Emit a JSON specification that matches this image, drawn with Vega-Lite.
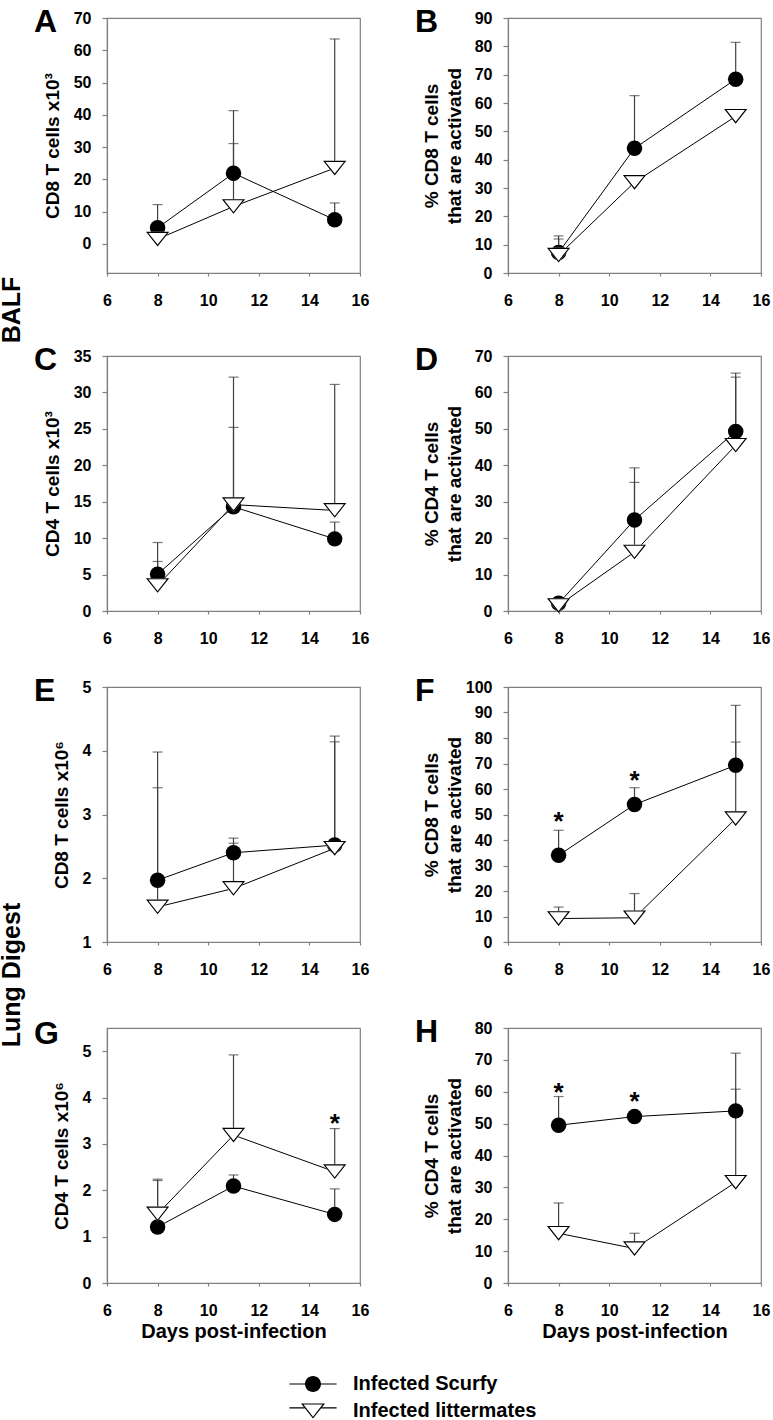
{
  "$schema": "https://vega.github.io/schema/vega-lite/v6.json",
  "padding": {"left": 0, "top": 5, "right": 0, "bottom": 0},
  "background": "white",
  "datasets": {
    "d": [
      {"p": "A", "day": 8, "g": "Infected Scurfy", "m": 5.0, "u": 12.2},
      {"p": "A", "day": 11, "g": "Infected Scurfy", "m": 21.9, "u": 41.3},
      {"p": "A", "day": 15, "g": "Infected Scurfy", "m": 7.5, "u": 12.7},
      {"p": "A", "day": 8, "g": "Infected littermates", "m": 1.5, "u": null},
      {"p": "A", "day": 11, "g": "Infected littermates", "m": 11.6, "u": 31.1},
      {"p": "A", "day": 15, "g": "Infected littermates", "m": 23.5, "u": 63.5},
      {"p": "B", "day": 8, "g": "Infected Scurfy", "m": 7.2, "u": 13.1},
      {"p": "B", "day": 11, "g": "Infected Scurfy", "m": 44.0, "u": 62.6},
      {"p": "B", "day": 15, "g": "Infected Scurfy", "m": 68.4, "u": 81.4},
      {"p": "B", "day": 8, "g": "Infected littermates", "m": 6.3, "u": 12.0},
      {"p": "B", "day": 11, "g": "Infected littermates", "m": 32.0, "u": null},
      {"p": "B", "day": 15, "g": "Infected littermates", "m": 55.3, "u": null},
      {"p": "C", "day": 8, "g": "Infected Scurfy", "m": 5.05, "u": 9.4},
      {"p": "C", "day": 11, "g": "Infected Scurfy", "m": 14.3, "u": 25.2},
      {"p": "C", "day": 15, "g": "Infected Scurfy", "m": 9.9, "u": 12.2},
      {"p": "C", "day": 8, "g": "Infected littermates", "m": 3.5, "u": 6.8},
      {"p": "C", "day": 11, "g": "Infected littermates", "m": 14.6, "u": 32.1},
      {"p": "C", "day": 15, "g": "Infected littermates", "m": 13.8, "u": 31.1},
      {"p": "D", "day": 8, "g": "Infected Scurfy", "m": 2.1, "u": null},
      {"p": "D", "day": 11, "g": "Infected Scurfy", "m": 25.0, "u": 39.3},
      {"p": "D", "day": 15, "g": "Infected Scurfy", "m": 49.3, "u": 65.3},
      {"p": "D", "day": 8, "g": "Infected littermates", "m": 1.5, "u": null},
      {"p": "D", "day": 11, "g": "Infected littermates", "m": 16.2, "u": 35.3},
      {"p": "D", "day": 15, "g": "Infected littermates", "m": 45.5, "u": 64.2},
      {"p": "E", "day": 8, "g": "Infected Scurfy", "m": 1.97, "u": 3.42},
      {"p": "E", "day": 11, "g": "Infected Scurfy", "m": 2.40, "u": 2.63},
      {"p": "E", "day": 15, "g": "Infected Scurfy", "m": 2.52, "u": 4.14},
      {"p": "E", "day": 8, "g": "Infected littermates", "m": 1.55, "u": 3.98},
      {"p": "E", "day": 11, "g": "Infected littermates", "m": 1.84, "u": 2.55},
      {"p": "E", "day": 15, "g": "Infected littermates", "m": 2.47, "u": 4.23},
      {"p": "F", "day": 8, "g": "Infected Scurfy", "m": 34.0, "u": 43.8, "star": 49.7},
      {"p": "F", "day": 11, "g": "Infected Scurfy", "m": 53.9, "u": 60.5, "star": 66.0},
      {"p": "F", "day": 15, "g": "Infected Scurfy", "m": 69.3, "u": 92.8},
      {"p": "F", "day": 8, "g": "Infected littermates", "m": 9.2, "u": 13.7},
      {"p": "F", "day": 11, "g": "Infected littermates", "m": 9.5, "u": 19.0},
      {"p": "F", "day": 15, "g": "Infected littermates", "m": 48.4, "u": 78.4},
      {"p": "G", "day": 8, "g": "Infected Scurfy", "m": 1.21, "u": 2.21},
      {"p": "G", "day": 11, "g": "Infected Scurfy", "m": 2.09, "u": 2.33},
      {"p": "G", "day": 15, "g": "Infected Scurfy", "m": 1.48, "u": 2.03},
      {"p": "G", "day": 8, "g": "Infected littermates", "m": 1.49, "u": 2.24},
      {"p": "G", "day": 11, "g": "Infected littermates", "m": 3.19, "u": 4.92},
      {"p": "G", "day": 15, "g": "Infected littermates", "m": 2.40, "u": 3.33, "star": 3.57},
      {"p": "H", "day": 8, "g": "Infected Scurfy", "m": 49.5, "u": 58.5, "star": 61.9},
      {"p": "H", "day": 11, "g": "Infected Scurfy", "m": 52.2, "u": null, "star": 58.9},
      {"p": "H", "day": 15, "g": "Infected Scurfy", "m": 54.0, "u": 72.1},
      {"p": "H", "day": 8, "g": "Infected littermates", "m": 15.6, "u": 25.1},
      {"p": "H", "day": 11, "g": "Infected littermates", "m": 10.8, "u": 15.6},
      {"p": "H", "day": 15, "g": "Infected littermates", "m": 31.6, "u": 60.8}
    ]
  },
  "data": {"name": "d"},
  "spacing": 27,
  "vconcat": [
    {
      "title": {"text": "BALF", "orient": "left", "anchor": "middle", "frame": "bounds", "fontSize": 25, "baseline": "bottom", "offset": -17, "dx": 16},
      "spacing": 34,
      "vconcat": [
        {
          "spacing": 44,
          "hconcat": [
            {
              "width": 253, "height": 255,
              "title": {"text": "A", "dx": -73, "dy": 33},
              "transform": [{"filter": "datum.p === 'A'"}],
              "encoding": {
                "x": {"field": "day", "type": "quantitative", "scale": {"domain": [6, 16], "nice": false, "zero": false}, "axis": {"values": [6, 8, 10, 12, 14, 16], "title": null}}
              },
              "layer": [
                {"mark": {"type": "line", "color": "black", "strokeWidth": 1}, "encoding": {"detail": {"field": "g", "type": "nominal"}, "y": {"field": "m", "type": "quantitative", "scale": {"domain": [-9, 70], "nice": false, "zero": false}, "axis": {"values": [0, 10, 20, 30, 40, 50, 60, 70], "title": "CD8 T cells x10³"}}}},
                {"transform": [{"filter": "isValid(datum.u)"}], "mark": {"type": "rule", "color": "#404040", "strokeWidth": 1.2}, "encoding": {"y": {"field": "m", "type": "quantitative", "scale": {"domain": [-9, 70], "nice": false, "zero": false}, "axis": {"values": [0, 10, 20, 30, 40, 50, 60, 70], "title": "CD8 T cells x10³"}}, "y2": {"field": "u"}}},
                {"transform": [{"filter": "isValid(datum.u)"}], "mark": {"type": "tick", "orient": "horizontal", "size": 10, "thickness": 1.2, "color": "#404040"}, "encoding": {"y": {"field": "u", "type": "quantitative", "scale": {"domain": [-9, 70], "nice": false, "zero": false}, "axis": {"values": [0, 10, 20, 30, 40, 50, 60, 70], "title": "CD8 T cells x10³"}}}},
                {"mark": {"type": "point", "filled": true, "color": "black", "size": 240, "opacity": 0},
                 "encoding": {
                   "y": {"field": "m", "type": "quantitative", "scale": {"domain": [-9, 70], "nice": false, "zero": false}, "axis": {"values": [0, 10, 20, 30, 40, 50, 60, 70], "title": "CD8 T cells x10³"}},
                   "shape": {"field": "g", "type": "nominal", "scale": {"domain": ["Infected Scurfy", "Infected littermates"], "range": ["M1,0A1,1,0,1,1,-1,0A1,1,0,1,1,1,0ZM-2.95,-0.075H-0.95V0.075H-2.95ZM0.95,-0.075H2.95V0.075H0.95Z", "M-1.5,-0.95L1.5,-0.95L0,0.95ZM-1.191,-0.8L0,0.708L1.191,-0.8ZM-2.95,-0.475H-1.05V-0.325H-2.95ZM1.05,-0.475H2.95V-0.325H1.05Z"]},
                     "legend": {"title": null, "orient": "none", "legendX": 196, "legendY": 1356, "direction": "vertical", "symbolSize": 256, "symbolOpacity": 1, "symbolFillColor": "black", "labelOffset": 30, "rowPadding": 5, "labelFontSize": 20, "labelFont": "Liberation Sans", "labelFontWeight": "bold", "labelColor": "black", "labelLimit": 400}}
                 }},
                {"transform": [{"filter": "datum.g === 'Infected Scurfy'"}], "mark": {"type": "point", "filled": true, "color": "black", "size": 240, "opacity": 1, "shape": "circle"},
                 "encoding": {"y": {"field": "m", "type": "quantitative", "scale": {"domain": [-9, 70], "nice": false, "zero": false}, "axis": {"values": [0, 10, 20, 30, 40, 50, 60, 70], "title": "CD8 T cells x10³"}}}},
                {"transform": [{"filter": "datum.g === 'Infected littermates'"}], "mark": {"type": "point", "filled": true, "color": "white", "size": 240, "opacity": 1, "shape": "M-1.5,-0.95L1.5,-0.95L0,0.95Z"},
                 "encoding": {"y": {"field": "m", "type": "quantitative", "scale": {"domain": [-9, 70], "nice": false, "zero": false}, "axis": {"values": [0, 10, 20, 30, 40, 50, 60, 70], "title": "CD8 T cells x10³"}}}},
                {"transform": [{"filter": "datum.g === 'Infected littermates'"}], "mark": {"type": "point", "filled": true, "color": "black", "size": 240, "opacity": 1, "shape": "M-1.5,-0.95L1.5,-0.95L0,0.95ZM-1.191,-0.8L0,0.708L1.191,-0.8Z"},
                 "encoding": {"y": {"field": "m", "type": "quantitative", "scale": {"domain": [-9, 70], "nice": false, "zero": false}, "axis": {"values": [0, 10, 20, 30, 40, 50, 60, 70], "title": "CD8 T cells x10³"}}}}
              ]
            },
            {
              "width": 253, "height": 255,
              "title": {"text": "B", "dx": -93, "dy": 33},
              "transform": [{"filter": "datum.p === 'B'"}],
              "encoding": {
                "x": {"field": "day", "type": "quantitative", "scale": {"domain": [6, 16], "nice": false, "zero": false}, "axis": {"values": [6, 8, 10, 12, 14, 16], "title": null}}
              },
              "layer": [
                {"mark": {"type": "line", "color": "black", "strokeWidth": 1}, "encoding": {"detail": {"field": "g", "type": "nominal"}, "y": {"field": "m", "type": "quantitative", "scale": {"domain": [0, 90], "nice": false, "zero": false}, "axis": {"values": [0, 10, 20, 30, 40, 50, 60, 70, 80, 90], "title": ["% CD8 T cells", "that are activated"], "minExtent": 36, "maxExtent": 36, "titlePadding": 8, "titleLineHeight": 23}}}},
                {"transform": [{"filter": "isValid(datum.u)"}], "mark": {"type": "rule", "color": "#404040", "strokeWidth": 1.2}, "encoding": {"y": {"field": "m", "type": "quantitative", "scale": {"domain": [0, 90], "nice": false, "zero": false}, "axis": {"values": [0, 10, 20, 30, 40, 50, 60, 70, 80, 90], "title": ["% CD8 T cells", "that are activated"], "minExtent": 36, "maxExtent": 36, "titlePadding": 8, "titleLineHeight": 23}}, "y2": {"field": "u"}}},
                {"transform": [{"filter": "isValid(datum.u)"}], "mark": {"type": "tick", "orient": "horizontal", "size": 10, "thickness": 1.2, "color": "#404040"}, "encoding": {"y": {"field": "u", "type": "quantitative", "scale": {"domain": [0, 90], "nice": false, "zero": false}, "axis": {"values": [0, 10, 20, 30, 40, 50, 60, 70, 80, 90], "title": ["% CD8 T cells", "that are activated"], "minExtent": 36, "maxExtent": 36, "titlePadding": 8, "titleLineHeight": 23}}}},
                {"transform": [{"filter": "datum.g === 'Infected Scurfy'"}], "mark": {"type": "point", "filled": true, "color": "black", "size": 240, "opacity": 1, "shape": "circle"},
                 "encoding": {"y": {"field": "m", "type": "quantitative", "scale": {"domain": [0, 90], "nice": false, "zero": false}, "axis": {"values": [0, 10, 20, 30, 40, 50, 60, 70, 80, 90], "title": ["% CD8 T cells", "that are activated"], "minExtent": 36, "maxExtent": 36, "titlePadding": 8, "titleLineHeight": 23}}}},
                {"transform": [{"filter": "datum.g === 'Infected littermates'"}], "mark": {"type": "point", "filled": true, "color": "white", "size": 240, "opacity": 1, "shape": "M-1.5,-0.95L1.5,-0.95L0,0.95Z"},
                 "encoding": {"y": {"field": "m", "type": "quantitative", "scale": {"domain": [0, 90], "nice": false, "zero": false}, "axis": {"values": [0, 10, 20, 30, 40, 50, 60, 70, 80, 90], "title": ["% CD8 T cells", "that are activated"], "minExtent": 36, "maxExtent": 36, "titlePadding": 8, "titleLineHeight": 23}}}},
                {"transform": [{"filter": "datum.g === 'Infected littermates'"}], "mark": {"type": "point", "filled": true, "color": "black", "size": 240, "opacity": 1, "shape": "M-1.5,-0.95L1.5,-0.95L0,0.95ZM-1.191,-0.8L0,0.708L1.191,-0.8Z"},
                 "encoding": {"y": {"field": "m", "type": "quantitative", "scale": {"domain": [0, 90], "nice": false, "zero": false}, "axis": {"values": [0, 10, 20, 30, 40, 50, 60, 70, 80, 90], "title": ["% CD8 T cells", "that are activated"], "minExtent": 36, "maxExtent": 36, "titlePadding": 8, "titleLineHeight": 23}}}}
              ]
            }
          ]
        },
        {
          "spacing": 44,
          "hconcat": [
            {
              "width": 253, "height": 255,
              "title": {"text": "C", "dx": -73, "dy": 33},
              "transform": [{"filter": "datum.p === 'C'"}],
              "encoding": {
                "x": {"field": "day", "type": "quantitative", "scale": {"domain": [6, 16], "nice": false, "zero": false}, "axis": {"values": [6, 8, 10, 12, 14, 16], "title": null}}
              },
              "layer": [
                {"mark": {"type": "line", "color": "black", "strokeWidth": 1}, "encoding": {"detail": {"field": "g", "type": "nominal"}, "y": {"field": "m", "type": "quantitative", "scale": {"domain": [0, 35], "nice": false, "zero": false}, "axis": {"values": [0, 5, 10, 15, 20, 25, 30, 35], "title": "CD4 T cells x10³"}}}},
                {"transform": [{"filter": "isValid(datum.u)"}], "mark": {"type": "rule", "color": "#404040", "strokeWidth": 1.2}, "encoding": {"y": {"field": "m", "type": "quantitative", "scale": {"domain": [0, 35], "nice": false, "zero": false}, "axis": {"values": [0, 5, 10, 15, 20, 25, 30, 35], "title": "CD4 T cells x10³"}}, "y2": {"field": "u"}}},
                {"transform": [{"filter": "isValid(datum.u)"}], "mark": {"type": "tick", "orient": "horizontal", "size": 10, "thickness": 1.2, "color": "#404040"}, "encoding": {"y": {"field": "u", "type": "quantitative", "scale": {"domain": [0, 35], "nice": false, "zero": false}, "axis": {"values": [0, 5, 10, 15, 20, 25, 30, 35], "title": "CD4 T cells x10³"}}}},
                {"transform": [{"filter": "datum.g === 'Infected Scurfy'"}], "mark": {"type": "point", "filled": true, "color": "black", "size": 240, "opacity": 1, "shape": "circle"},
                 "encoding": {"y": {"field": "m", "type": "quantitative", "scale": {"domain": [0, 35], "nice": false, "zero": false}, "axis": {"values": [0, 5, 10, 15, 20, 25, 30, 35], "title": "CD4 T cells x10³"}}}},
                {"transform": [{"filter": "datum.g === 'Infected littermates'"}], "mark": {"type": "point", "filled": true, "color": "white", "size": 240, "opacity": 1, "shape": "M-1.5,-0.95L1.5,-0.95L0,0.95Z"},
                 "encoding": {"y": {"field": "m", "type": "quantitative", "scale": {"domain": [0, 35], "nice": false, "zero": false}, "axis": {"values": [0, 5, 10, 15, 20, 25, 30, 35], "title": "CD4 T cells x10³"}}}},
                {"transform": [{"filter": "datum.g === 'Infected littermates'"}], "mark": {"type": "point", "filled": true, "color": "black", "size": 240, "opacity": 1, "shape": "M-1.5,-0.95L1.5,-0.95L0,0.95ZM-1.191,-0.8L0,0.708L1.191,-0.8Z"},
                 "encoding": {"y": {"field": "m", "type": "quantitative", "scale": {"domain": [0, 35], "nice": false, "zero": false}, "axis": {"values": [0, 5, 10, 15, 20, 25, 30, 35], "title": "CD4 T cells x10³"}}}}
              ]
            },
            {
              "width": 253, "height": 255,
              "title": {"text": "D", "dx": -93, "dy": 33},
              "transform": [{"filter": "datum.p === 'D'"}],
              "encoding": {
                "x": {"field": "day", "type": "quantitative", "scale": {"domain": [6, 16], "nice": false, "zero": false}, "axis": {"values": [6, 8, 10, 12, 14, 16], "title": null}}
              },
              "layer": [
                {"mark": {"type": "line", "color": "black", "strokeWidth": 1}, "encoding": {"detail": {"field": "g", "type": "nominal"}, "y": {"field": "m", "type": "quantitative", "scale": {"domain": [0, 70], "nice": false, "zero": false}, "axis": {"values": [0, 10, 20, 30, 40, 50, 60, 70], "title": ["% CD4 T cells", "that are activated"], "minExtent": 36, "maxExtent": 36, "titlePadding": 8, "titleLineHeight": 23}}}},
                {"transform": [{"filter": "isValid(datum.u)"}], "mark": {"type": "rule", "color": "#404040", "strokeWidth": 1.2}, "encoding": {"y": {"field": "m", "type": "quantitative", "scale": {"domain": [0, 70], "nice": false, "zero": false}, "axis": {"values": [0, 10, 20, 30, 40, 50, 60, 70], "title": ["% CD4 T cells", "that are activated"], "minExtent": 36, "maxExtent": 36, "titlePadding": 8, "titleLineHeight": 23}}, "y2": {"field": "u"}}},
                {"transform": [{"filter": "isValid(datum.u)"}], "mark": {"type": "tick", "orient": "horizontal", "size": 10, "thickness": 1.2, "color": "#404040"}, "encoding": {"y": {"field": "u", "type": "quantitative", "scale": {"domain": [0, 70], "nice": false, "zero": false}, "axis": {"values": [0, 10, 20, 30, 40, 50, 60, 70], "title": ["% CD4 T cells", "that are activated"], "minExtent": 36, "maxExtent": 36, "titlePadding": 8, "titleLineHeight": 23}}}},
                {"transform": [{"filter": "datum.g === 'Infected Scurfy'"}], "mark": {"type": "point", "filled": true, "color": "black", "size": 240, "opacity": 1, "shape": "circle"},
                 "encoding": {"y": {"field": "m", "type": "quantitative", "scale": {"domain": [0, 70], "nice": false, "zero": false}, "axis": {"values": [0, 10, 20, 30, 40, 50, 60, 70], "title": ["% CD4 T cells", "that are activated"], "minExtent": 36, "maxExtent": 36, "titlePadding": 8, "titleLineHeight": 23}}}},
                {"transform": [{"filter": "datum.g === 'Infected littermates'"}], "mark": {"type": "point", "filled": true, "color": "white", "size": 240, "opacity": 1, "shape": "M-1.5,-0.95L1.5,-0.95L0,0.95Z"},
                 "encoding": {"y": {"field": "m", "type": "quantitative", "scale": {"domain": [0, 70], "nice": false, "zero": false}, "axis": {"values": [0, 10, 20, 30, 40, 50, 60, 70], "title": ["% CD4 T cells", "that are activated"], "minExtent": 36, "maxExtent": 36, "titlePadding": 8, "titleLineHeight": 23}}}},
                {"transform": [{"filter": "datum.g === 'Infected littermates'"}], "mark": {"type": "point", "filled": true, "color": "black", "size": 240, "opacity": 1, "shape": "M-1.5,-0.95L1.5,-0.95L0,0.95ZM-1.191,-0.8L0,0.708L1.191,-0.8Z"},
                 "encoding": {"y": {"field": "m", "type": "quantitative", "scale": {"domain": [0, 70], "nice": false, "zero": false}, "axis": {"values": [0, 10, 20, 30, 40, 50, 60, 70], "title": ["% CD4 T cells", "that are activated"], "minExtent": 36, "maxExtent": 36, "titlePadding": 8, "titleLineHeight": 23}}}}
              ]
            }
          ]
        }
      ]
    },
    {
      "title": {"text": "Lung Digest", "orient": "left", "anchor": "middle", "frame": "bounds", "fontSize": 25, "baseline": "bottom", "offset": -17, "dx": 33},
      "spacing": 37,
      "vconcat": [
        {
          "spacing": 44,
          "hconcat": [
            {
              "width": 253, "height": 255,
              "title": {"text": "E", "dx": -73, "dy": 33},
              "transform": [{"filter": "datum.p === 'E'"}],
              "encoding": {
                "x": {"field": "day", "type": "quantitative", "scale": {"domain": [6, 16], "nice": false, "zero": false}, "axis": {"values": [6, 8, 10, 12, 14, 16], "title": null}}
              },
              "layer": [
                {"mark": {"type": "line", "color": "black", "strokeWidth": 1}, "encoding": {"detail": {"field": "g", "type": "nominal"}, "y": {"field": "m", "type": "quantitative", "scale": {"domain": [1, 5], "nice": false, "zero": false}, "axis": {"values": [1, 2, 3, 4, 5], "title": "CD8 T cells x10⁶"}}}},
                {"transform": [{"filter": "isValid(datum.u)"}], "mark": {"type": "rule", "color": "#404040", "strokeWidth": 1.2}, "encoding": {"y": {"field": "m", "type": "quantitative", "scale": {"domain": [1, 5], "nice": false, "zero": false}, "axis": {"values": [1, 2, 3, 4, 5], "title": "CD8 T cells x10⁶"}}, "y2": {"field": "u"}}},
                {"transform": [{"filter": "isValid(datum.u)"}], "mark": {"type": "tick", "orient": "horizontal", "size": 10, "thickness": 1.2, "color": "#404040"}, "encoding": {"y": {"field": "u", "type": "quantitative", "scale": {"domain": [1, 5], "nice": false, "zero": false}, "axis": {"values": [1, 2, 3, 4, 5], "title": "CD8 T cells x10⁶"}}}},
                {"transform": [{"filter": "datum.g === 'Infected Scurfy'"}], "mark": {"type": "point", "filled": true, "color": "black", "size": 240, "opacity": 1, "shape": "circle"},
                 "encoding": {"y": {"field": "m", "type": "quantitative", "scale": {"domain": [1, 5], "nice": false, "zero": false}, "axis": {"values": [1, 2, 3, 4, 5], "title": "CD8 T cells x10⁶"}}}},
                {"transform": [{"filter": "datum.g === 'Infected littermates'"}], "mark": {"type": "point", "filled": true, "color": "white", "size": 240, "opacity": 1, "shape": "M-1.5,-0.95L1.5,-0.95L0,0.95Z"},
                 "encoding": {"y": {"field": "m", "type": "quantitative", "scale": {"domain": [1, 5], "nice": false, "zero": false}, "axis": {"values": [1, 2, 3, 4, 5], "title": "CD8 T cells x10⁶"}}}},
                {"transform": [{"filter": "datum.g === 'Infected littermates'"}], "mark": {"type": "point", "filled": true, "color": "black", "size": 240, "opacity": 1, "shape": "M-1.5,-0.95L1.5,-0.95L0,0.95ZM-1.191,-0.8L0,0.708L1.191,-0.8Z"},
                 "encoding": {"y": {"field": "m", "type": "quantitative", "scale": {"domain": [1, 5], "nice": false, "zero": false}, "axis": {"values": [1, 2, 3, 4, 5], "title": "CD8 T cells x10⁶"}}}}
              ]
            },
            {
              "width": 253, "height": 255,
              "title": {"text": "F", "dx": -93, "dy": 33},
              "transform": [{"filter": "datum.p === 'F'"}],
              "encoding": {
                "x": {"field": "day", "type": "quantitative", "scale": {"domain": [6, 16], "nice": false, "zero": false}, "axis": {"values": [6, 8, 10, 12, 14, 16], "title": null}}
              },
              "layer": [
                {"mark": {"type": "line", "color": "black", "strokeWidth": 1}, "encoding": {"detail": {"field": "g", "type": "nominal"}, "y": {"field": "m", "type": "quantitative", "scale": {"domain": [0, 100], "nice": false, "zero": false}, "axis": {"values": [0, 10, 20, 30, 40, 50, 60, 70, 80, 90, 100], "title": ["% CD8 T cells", "that are activated"], "minExtent": 36, "maxExtent": 36, "titlePadding": 8, "titleLineHeight": 23}}}},
                {"transform": [{"filter": "isValid(datum.u)"}], "mark": {"type": "rule", "color": "#404040", "strokeWidth": 1.2}, "encoding": {"y": {"field": "m", "type": "quantitative", "scale": {"domain": [0, 100], "nice": false, "zero": false}, "axis": {"values": [0, 10, 20, 30, 40, 50, 60, 70, 80, 90, 100], "title": ["% CD8 T cells", "that are activated"], "minExtent": 36, "maxExtent": 36, "titlePadding": 8, "titleLineHeight": 23}}, "y2": {"field": "u"}}},
                {"transform": [{"filter": "isValid(datum.u)"}], "mark": {"type": "tick", "orient": "horizontal", "size": 10, "thickness": 1.2, "color": "#404040"}, "encoding": {"y": {"field": "u", "type": "quantitative", "scale": {"domain": [0, 100], "nice": false, "zero": false}, "axis": {"values": [0, 10, 20, 30, 40, 50, 60, 70, 80, 90, 100], "title": ["% CD8 T cells", "that are activated"], "minExtent": 36, "maxExtent": 36, "titlePadding": 8, "titleLineHeight": 23}}}},
                {"transform": [{"filter": "datum.g === 'Infected Scurfy'"}], "mark": {"type": "point", "filled": true, "color": "black", "size": 240, "opacity": 1, "shape": "circle"},
                 "encoding": {"y": {"field": "m", "type": "quantitative", "scale": {"domain": [0, 100], "nice": false, "zero": false}, "axis": {"values": [0, 10, 20, 30, 40, 50, 60, 70, 80, 90, 100], "title": ["% CD8 T cells", "that are activated"], "minExtent": 36, "maxExtent": 36, "titlePadding": 8, "titleLineHeight": 23}}}},
                {"transform": [{"filter": "datum.g === 'Infected littermates'"}], "mark": {"type": "point", "filled": true, "color": "white", "size": 240, "opacity": 1, "shape": "M-1.5,-0.95L1.5,-0.95L0,0.95Z"},
                 "encoding": {"y": {"field": "m", "type": "quantitative", "scale": {"domain": [0, 100], "nice": false, "zero": false}, "axis": {"values": [0, 10, 20, 30, 40, 50, 60, 70, 80, 90, 100], "title": ["% CD8 T cells", "that are activated"], "minExtent": 36, "maxExtent": 36, "titlePadding": 8, "titleLineHeight": 23}}}},
                {"transform": [{"filter": "datum.g === 'Infected littermates'"}], "mark": {"type": "point", "filled": true, "color": "black", "size": 240, "opacity": 1, "shape": "M-1.5,-0.95L1.5,-0.95L0,0.95ZM-1.191,-0.8L0,0.708L1.191,-0.8Z"},
                 "encoding": {"y": {"field": "m", "type": "quantitative", "scale": {"domain": [0, 100], "nice": false, "zero": false}, "axis": {"values": [0, 10, 20, 30, 40, 50, 60, 70, 80, 90, 100], "title": ["% CD8 T cells", "that are activated"], "minExtent": 36, "maxExtent": 36, "titlePadding": 8, "titleLineHeight": 23}}}},
                {"transform": [{"filter": "isValid(datum.star)"}], "mark": {"type": "text", "text": "*", "fontSize": 26, "fontWeight": "bold", "font": "Liberation Sans", "baseline": "middle", "dy": 7, "color": "black"}, "encoding": {"y": {"field": "star", "type": "quantitative", "scale": {"domain": [0, 100], "nice": false, "zero": false}, "axis": {"values": [0, 10, 20, 30, 40, 50, 60, 70, 80, 90, 100], "title": ["% CD8 T cells", "that are activated"], "minExtent": 36, "maxExtent": 36, "titlePadding": 8, "titleLineHeight": 23}}}}
              ]
            }
          ]
        },
        {
          "spacing": 44,
          "hconcat": [
            {
              "width": 253, "height": 255,
              "title": {"text": "G", "dx": -73, "dy": 27},
              "transform": [{"filter": "datum.p === 'G'"}],
              "encoding": {
                "x": {"field": "day", "type": "quantitative", "scale": {"domain": [6, 16], "nice": false, "zero": false}, "axis": {"values": [6, 8, 10, 12, 14, 16], "title": "Days post-infection"}}
              },
              "layer": [
                {"mark": {"type": "line", "color": "black", "strokeWidth": 1}, "encoding": {"detail": {"field": "g", "type": "nominal"}, "y": {"field": "m", "type": "quantitative", "scale": {"domain": [0, 5.5], "nice": false, "zero": false}, "axis": {"values": [0, 1, 2, 3, 4, 5], "title": "CD4 T cells x10⁶"}}}},
                {"transform": [{"filter": "isValid(datum.u)"}], "mark": {"type": "rule", "color": "#404040", "strokeWidth": 1.2}, "encoding": {"y": {"field": "m", "type": "quantitative", "scale": {"domain": [0, 5.5], "nice": false, "zero": false}, "axis": {"values": [0, 1, 2, 3, 4, 5], "title": "CD4 T cells x10⁶"}}, "y2": {"field": "u"}}},
                {"transform": [{"filter": "isValid(datum.u)"}], "mark": {"type": "tick", "orient": "horizontal", "size": 10, "thickness": 1.2, "color": "#404040"}, "encoding": {"y": {"field": "u", "type": "quantitative", "scale": {"domain": [0, 5.5], "nice": false, "zero": false}, "axis": {"values": [0, 1, 2, 3, 4, 5], "title": "CD4 T cells x10⁶"}}}},
                {"transform": [{"filter": "datum.g === 'Infected Scurfy'"}], "mark": {"type": "point", "filled": true, "color": "black", "size": 240, "opacity": 1, "shape": "circle"},
                 "encoding": {"y": {"field": "m", "type": "quantitative", "scale": {"domain": [0, 5.5], "nice": false, "zero": false}, "axis": {"values": [0, 1, 2, 3, 4, 5], "title": "CD4 T cells x10⁶"}}}},
                {"transform": [{"filter": "datum.g === 'Infected littermates'"}], "mark": {"type": "point", "filled": true, "color": "white", "size": 240, "opacity": 1, "shape": "M-1.5,-0.95L1.5,-0.95L0,0.95Z"},
                 "encoding": {"y": {"field": "m", "type": "quantitative", "scale": {"domain": [0, 5.5], "nice": false, "zero": false}, "axis": {"values": [0, 1, 2, 3, 4, 5], "title": "CD4 T cells x10⁶"}}}},
                {"transform": [{"filter": "datum.g === 'Infected littermates'"}], "mark": {"type": "point", "filled": true, "color": "black", "size": 240, "opacity": 1, "shape": "M-1.5,-0.95L1.5,-0.95L0,0.95ZM-1.191,-0.8L0,0.708L1.191,-0.8Z"},
                 "encoding": {"y": {"field": "m", "type": "quantitative", "scale": {"domain": [0, 5.5], "nice": false, "zero": false}, "axis": {"values": [0, 1, 2, 3, 4, 5], "title": "CD4 T cells x10⁶"}}}},
                {"transform": [{"filter": "isValid(datum.star)"}], "mark": {"type": "text", "text": "*", "fontSize": 26, "fontWeight": "bold", "font": "Liberation Sans", "baseline": "middle", "dy": 7, "color": "black"}, "encoding": {"y": {"field": "star", "type": "quantitative", "scale": {"domain": [0, 5.5], "nice": false, "zero": false}, "axis": {"values": [0, 1, 2, 3, 4, 5], "title": "CD4 T cells x10⁶"}}}}
              ]
            },
            {
              "width": 253, "height": 255,
              "title": {"text": "H", "dx": -93, "dy": 33},
              "transform": [{"filter": "datum.p === 'H'"}],
              "encoding": {
                "x": {"field": "day", "type": "quantitative", "scale": {"domain": [6, 16], "nice": false, "zero": false}, "axis": {"values": [6, 8, 10, 12, 14, 16], "title": "Days post-infection"}}
              },
              "layer": [
                {"mark": {"type": "line", "color": "black", "strokeWidth": 1}, "encoding": {"detail": {"field": "g", "type": "nominal"}, "y": {"field": "m", "type": "quantitative", "scale": {"domain": [0, 80], "nice": false, "zero": false}, "axis": {"values": [0, 10, 20, 30, 40, 50, 60, 70, 80], "title": ["% CD4 T cells", "that are activated"], "minExtent": 36, "maxExtent": 36, "titlePadding": 8, "titleLineHeight": 23}}}},
                {"transform": [{"filter": "isValid(datum.u)"}], "mark": {"type": "rule", "color": "#404040", "strokeWidth": 1.2}, "encoding": {"y": {"field": "m", "type": "quantitative", "scale": {"domain": [0, 80], "nice": false, "zero": false}, "axis": {"values": [0, 10, 20, 30, 40, 50, 60, 70, 80], "title": ["% CD4 T cells", "that are activated"], "minExtent": 36, "maxExtent": 36, "titlePadding": 8, "titleLineHeight": 23}}, "y2": {"field": "u"}}},
                {"transform": [{"filter": "isValid(datum.u)"}], "mark": {"type": "tick", "orient": "horizontal", "size": 10, "thickness": 1.2, "color": "#404040"}, "encoding": {"y": {"field": "u", "type": "quantitative", "scale": {"domain": [0, 80], "nice": false, "zero": false}, "axis": {"values": [0, 10, 20, 30, 40, 50, 60, 70, 80], "title": ["% CD4 T cells", "that are activated"], "minExtent": 36, "maxExtent": 36, "titlePadding": 8, "titleLineHeight": 23}}}},
                {"transform": [{"filter": "datum.g === 'Infected Scurfy'"}], "mark": {"type": "point", "filled": true, "color": "black", "size": 240, "opacity": 1, "shape": "circle"},
                 "encoding": {"y": {"field": "m", "type": "quantitative", "scale": {"domain": [0, 80], "nice": false, "zero": false}, "axis": {"values": [0, 10, 20, 30, 40, 50, 60, 70, 80], "title": ["% CD4 T cells", "that are activated"], "minExtent": 36, "maxExtent": 36, "titlePadding": 8, "titleLineHeight": 23}}}},
                {"transform": [{"filter": "datum.g === 'Infected littermates'"}], "mark": {"type": "point", "filled": true, "color": "white", "size": 240, "opacity": 1, "shape": "M-1.5,-0.95L1.5,-0.95L0,0.95Z"},
                 "encoding": {"y": {"field": "m", "type": "quantitative", "scale": {"domain": [0, 80], "nice": false, "zero": false}, "axis": {"values": [0, 10, 20, 30, 40, 50, 60, 70, 80], "title": ["% CD4 T cells", "that are activated"], "minExtent": 36, "maxExtent": 36, "titlePadding": 8, "titleLineHeight": 23}}}},
                {"transform": [{"filter": "datum.g === 'Infected littermates'"}], "mark": {"type": "point", "filled": true, "color": "black", "size": 240, "opacity": 1, "shape": "M-1.5,-0.95L1.5,-0.95L0,0.95ZM-1.191,-0.8L0,0.708L1.191,-0.8Z"},
                 "encoding": {"y": {"field": "m", "type": "quantitative", "scale": {"domain": [0, 80], "nice": false, "zero": false}, "axis": {"values": [0, 10, 20, 30, 40, 50, 60, 70, 80], "title": ["% CD4 T cells", "that are activated"], "minExtent": 36, "maxExtent": 36, "titlePadding": 8, "titleLineHeight": 23}}}},
                {"transform": [{"filter": "isValid(datum.star)"}], "mark": {"type": "text", "text": "*", "fontSize": 26, "fontWeight": "bold", "font": "Liberation Sans", "baseline": "middle", "dy": 7, "color": "black"}, "encoding": {"y": {"field": "star", "type": "quantitative", "scale": {"domain": [0, 80], "nice": false, "zero": false}, "axis": {"values": [0, 10, 20, 30, 40, 50, 60, 70, 80], "title": ["% CD4 T cells", "that are activated"], "minExtent": 36, "maxExtent": 36, "titlePadding": 8, "titleLineHeight": 23}}}}
              ]
            }
          ]
        }
      ]
    }
  ],
  "config": {
    "font": "Liberation Sans",
    "view": {"stroke": "#808080", "strokeWidth": 1.2},
    "title": {"anchor": "start", "frame": "group", "fontSize": 32, "fontWeight": "bold", "font": "Liberation Sans", "color": "black", "baseline": "top", "offset": 0},
    "axis": {"labelFont": "Liberation Sans", "labelFontSize": 16, "labelFontWeight": "bold", "labelColor": "black", "titleFont": "Liberation Sans", "titleFontSize": 19, "titleFontWeight": "bold", "titleColor": "black", "grid": false, "domainColor": "#808080", "tickColor": "#808080", "domainWidth": 1.2, "tickWidth": 1.2, "labelFlush": false, "labelOverlap": false, "labelBound": false},
    "axisX": {"tickSize": 3, "labelPadding": 16, "titlePadding": 3, "titleFontSize": 20},
    "axisY": {"tickSize": 5, "labelPadding": 11, "titlePadding": 11}
  }
}
